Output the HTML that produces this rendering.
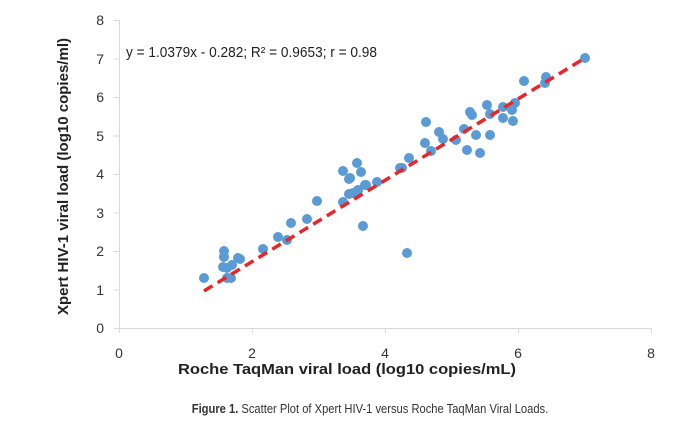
<!DOCTYPE html>
<html><head><style>
body{margin:0;background:#fff;width:681px;height:432px;overflow:hidden}
</style></head><body>
<svg width="681" height="432" xmlns="http://www.w3.org/2000/svg" font-family="Liberation Sans, sans-serif">
<g stroke="#d9d9d9" stroke-width="1">
<line x1="119.5" y1="20" x2="119.5" y2="328"/>
<line x1="119" y1="328.5" x2="652" y2="328.5"/>
<line x1="114" y1="20.5" x2="119" y2="20.5"/><line x1="114" y1="59" x2="119" y2="59"/><line x1="114" y1="97.5" x2="119" y2="97.5"/><line x1="114" y1="136" x2="119" y2="136"/><line x1="114" y1="174.5" x2="119" y2="174.5"/><line x1="114" y1="213" x2="119" y2="213"/><line x1="114" y1="251.5" x2="119" y2="251.5"/><line x1="114" y1="290" x2="119" y2="290"/><line x1="114" y1="328.5" x2="119" y2="328.5"/>
<line x1="119.5" y1="328" x2="119.5" y2="333"/><line x1="252.5" y1="328" x2="252.5" y2="333"/><line x1="385.5" y1="328" x2="385.5" y2="333"/><line x1="518.5" y1="328" x2="518.5" y2="333"/><line x1="651.5" y1="328" x2="651.5" y2="333"/>
</g>
<g font-size="14" fill="#333" text-anchor="end">
<text x="104" y="25">8</text><text x="104" y="64">7</text><text x="104" y="102">6</text><text x="104" y="141">5</text><text x="104" y="179">4</text><text x="104" y="218">3</text><text x="104" y="256">2</text><text x="104" y="295">1</text><text x="104" y="333">0</text>
</g>
<g font-size="14" fill="#333" text-anchor="middle">
<text x="119" y="358">0</text><text x="252" y="358">2</text><text x="385" y="358">4</text><text x="518" y="358">6</text><text x="651" y="358">8</text>
</g>
<text x="126" y="57" font-size="14.5" fill="#222" textLength="251" lengthAdjust="spacingAndGlyphs">y = 1.0379x - 0.282;  R² = 0.9653;  r = 0.98</text>
<text x="178" y="374" font-size="15" font-weight="bold" fill="#222" textLength="338" lengthAdjust="spacingAndGlyphs">Roche TaqMan viral load (log10 copies/mL)</text>
<text transform="translate(68,315) rotate(-90)" font-size="15" font-weight="bold" fill="#222" textLength="277" lengthAdjust="spacingAndGlyphs">Xpert HIV-1 viral load (log10 copies/ml)</text>
<g fill="#5b9bd5">
<circle cx="204" cy="278" r="5"/><circle cx="224" cy="251" r="5"/><circle cx="224" cy="257" r="5"/><circle cx="223" cy="267" r="5"/><circle cx="227" cy="268" r="5"/><circle cx="232" cy="265" r="5"/><circle cx="227" cy="278" r="5"/><circle cx="231" cy="278" r="5"/><circle cx="238" cy="258" r="5"/><circle cx="240" cy="259" r="5"/>
<circle cx="263" cy="249" r="5"/><circle cx="278" cy="237" r="5"/><circle cx="287" cy="240" r="5"/><circle cx="291" cy="223" r="5"/><circle cx="307" cy="219" r="5"/><circle cx="317" cy="201" r="5"/>
<circle cx="343" cy="171" r="5"/><circle cx="343" cy="202" r="5"/><circle cx="349" cy="179" r="5"/><circle cx="349" cy="194" r="5"/><circle cx="357" cy="163" r="5"/><circle cx="361" cy="172" r="5"/><circle cx="358" cy="190" r="5"/><circle cx="353" cy="193" r="5"/><circle cx="366" cy="185" r="5"/><circle cx="363" cy="226" r="5"/><circle cx="377" cy="182" r="5"/><circle cx="400" cy="168" r="5"/>
<circle cx="585" cy="58" r="5"/><circle cx="524" cy="81" r="5"/><circle cx="546" cy="77" r="5"/><circle cx="545" cy="83" r="5"/>
<circle cx="487" cy="105" r="5"/><circle cx="503" cy="107" r="5"/><circle cx="515" cy="103" r="5"/><circle cx="512" cy="110" r="5"/><circle cx="503" cy="118" r="5"/><circle cx="513" cy="121" r="5"/><circle cx="490" cy="114" r="5"/>
<circle cx="470" cy="112" r="5"/><circle cx="472" cy="115" r="5"/><circle cx="426" cy="122" r="5"/><circle cx="464" cy="129" r="5"/><circle cx="439" cy="132" r="5"/><circle cx="443" cy="139" r="5"/><circle cx="456" cy="140" r="5"/><circle cx="476" cy="135" r="5"/><circle cx="490" cy="135" r="5"/><circle cx="425" cy="143" r="5"/><circle cx="431" cy="151" r="5"/><circle cx="467" cy="150" r="5"/><circle cx="480" cy="153" r="5"/>
<circle cx="409" cy="158" r="5"/><circle cx="402" cy="168" r="5"/><circle cx="365" cy="185" r="5"/><circle cx="350" cy="178" r="5"/><circle cx="407" cy="253" r="5"/>
</g>
<line x1="204" y1="291" x2="585" y2="58" stroke="#e8262a" stroke-width="3.5" stroke-dasharray="10,6"/>
<text x="370" y="413" font-size="13" fill="#333" text-anchor="middle" transform="translate(370,0) scale(0.86,1) translate(-370,0)"><tspan font-weight="bold">Figure 1.</tspan> Scatter Plot of Xpert HIV-1 versus Roche TaqMan Viral Loads.</text>
</svg>
</body></html>
